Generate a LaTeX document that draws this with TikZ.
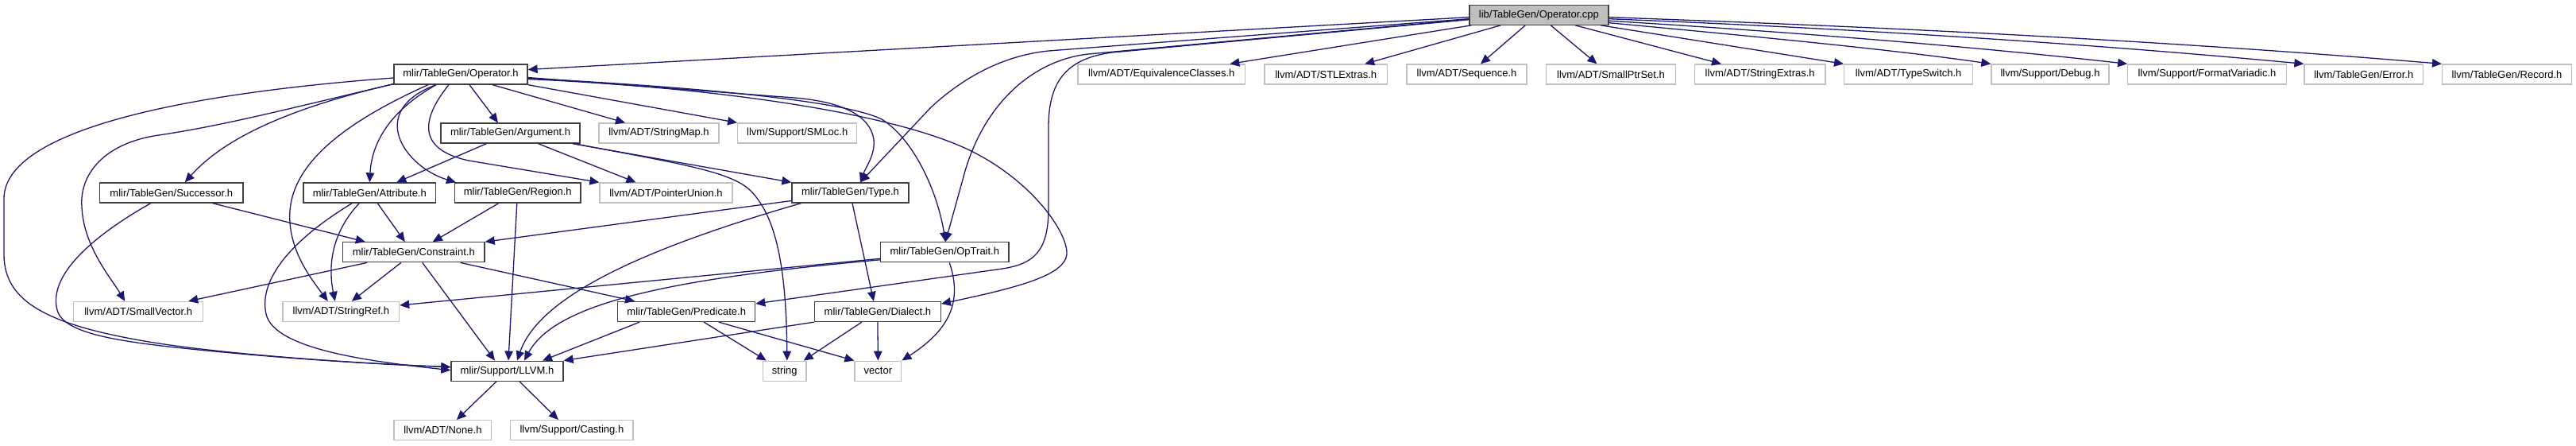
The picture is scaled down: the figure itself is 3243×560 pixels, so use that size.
\documentclass[tikz,border=0pt]{standalone}
\usepackage{fontspec}
\setmainfont{Liberation Sans}
\usetikzlibrary{arrows.meta}
\definecolor{edgec}{HTML}{191970}
\definecolor{gdark}{HTML}{404040}
\definecolor{glight}{HTML}{BFBFBF}
\begin{document}
\begin{tikzpicture}[x=1pt,y=-1pt,
  box/.style={draw, rectangle, minimum height=25pt, inner sep=0pt, line width=1.3pt,
    font=\fontsize{13pt}{15pt}\selectfont, text=black},
  dk/.style={box, draw=gdark},
  lt/.style={box, draw=glight},
  root/.style={box, draw=gdark, fill=glight},
  edge/.style={draw=edgec, line width=1.3pt, -{Triangle[length=12pt,width=10.5pt]}, fill=none},
  every path/.style={}]
\useasboundingbox (0,0) rectangle (3243,560);

% row 0
\node[root, minimum width=175pt] (cpp) at (1937.4,18.7) {lib/TableGen/Operator.cpp};
% row 1
\node[dk, minimum width=168pt] (opH) at (580,93.5) {mlir/TableGen/Operator.h};
\node[lt, minimum width=210.5pt] (eqc) at (1462.3,93.5) {llvm/ADT/EquivalenceClasses.h};
\node[lt, minimum width=154.5pt] (stl) at (1669.2,93.5) {llvm/ADT/STLExtras.h};
\node[lt, minimum width=151pt] (seq) at (1846.5,93.5) {llvm/ADT/Sequence.h};
\node[lt, minimum width=162.7pt] (sps) at (2028,93.5) {llvm/ADT/SmallPtrSet.h};
\node[lt, minimum width=164.6pt] (sex) at (2215.7,93.5) {llvm/ADT/StringExtras.h};
\node[lt, minimum width=161.8pt] (tsw) at (2402.6,93.5) {llvm/ADT/TypeSwitch.h};
\node[lt, minimum width=148pt] (dbg) at (2581,93.5) {llvm/Support/Debug.h};
\node[lt, minimum width=199.5pt] (fmv) at (2778.5,93.5) {llvm/Support/FormatVariadic.h};
\node[lt, minimum width=149.6pt] (err) at (2975.8,93.5) {llvm/TableGen/Error.h};
\node[lt, minimum width=162.8pt] (rec) at (3156,93.5) {llvm/TableGen/Record.h};
% row 2
\node[dk, minimum width=175pt] (arg) at (642.5,167.5) {mlir/TableGen/Argument.h};
\node[lt, minimum width=151pt] (smap) at (829.5,167.5) {llvm/ADT/StringMap.h};
\node[lt, minimum width=150pt] (sml) at (1003.7,167.5) {llvm/Support/SMLoc.h};
% row 3
\node[dk, minimum width=180.5pt] (suc) at (215.8,242.5) {mlir/TableGen/Successor.h};
\node[dk, minimum width=166.6pt] (att) at (465.3,242.5) {mlir/TableGen/Attribute.h};
\node[dk, minimum width=158.4pt] (reg) at (651.8,242.5) {mlir/TableGen/Region.h};
\node[lt, minimum width=167pt] (pun) at (838.5,242.5) {llvm/ADT/PointerUnion.h};
\node[dk, minimum width=147pt] (typ) at (1070.5,242.5) {mlir/TableGen/Type.h};
% row 4
\node[dk, minimum width=178.5pt] (con) at (520.8,317.3) {mlir/TableGen/Constraint.h};
\node[dk, minimum width=161.5pt] (opt) at (1189.3,317.3) {mlir/TableGen/OpTrait.h};
% row 5
\node[lt, minimum width=163pt] (svec) at (174.2,392) {llvm/ADT/SmallVector.h};
\node[lt, minimum width=146.6pt] (sref) at (429.3,392) {llvm/ADT/StringRef.h};
\node[dk, minimum width=172.9pt] (pred) at (864.2,392) {mlir/TableGen/Predicate.h};
\node[dk, minimum width=159pt] (dia) at (1104.9,392) {mlir/TableGen/Dialect.h};
% row 6
\node[dk, minimum width=141pt] (llvm) at (638.5,466.7) {mlir/Support/LLVM.h};
\node[lt, minimum width=54.4pt] (str) at (987.8,466.7) {string};
\node[lt, minimum width=58.7pt] (vec) at (1105.4,466.7) {vector};
% row 7
\node[lt, minimum width=122.7pt] (none) at (557.4,541.2) {llvm/ADT/None.h};
\node[lt, minimum width=154.3pt] (cast) at (719.9,541.2) {llvm/Support/Casting.h};

% ---- edges from Operator.cpp
\draw[edge] ([yshift=-3pt]cpp.west) -- ([yshift=6pt]opH.east);
\draw[edge] ([xshift=3pt]cpp.south west) -- ([xshift=86pt]eqc.north);
\draw[edge] ([xshift=40pt]cpp.south west) -- ([xshift=49pt]stl.north);
\draw[edge] ([xshift=71pt]cpp.south west) -- ([xshift=17.5pt]seq.north);
\draw[edge] ([xshift=103pt]cpp.south west) -- ([xshift=-17.5pt]sps.north);
\draw[edge] ([xshift=134pt]cpp.south west) -- ([xshift=-48.7pt]sex.north);
\draw[edge] ([xshift=166pt]cpp.south west) -- (tsw.north west);
\draw[edge] ([yshift=-10pt]cpp.east) .. controls (2200,45) and (2380,62) .. (dbg.north west);
\draw[edge] ([yshift=-7.5pt]cpp.east) .. controls (2250,40) and (2480,58) .. (fmv.north west);
\draw[edge] ([yshift=-5pt]cpp.east) .. controls (2330,36) and (2620,54) .. (err.north west);
\draw[edge] ([yshift=-3pt]cpp.east) .. controls (2375,34) and (2724,51) .. (rec.north west);
\draw[edge] ([yshift=-5pt]cpp.west) -- (1320,64) .. controls (1262,70) and (1212,98) .. (1172,135) -- ([xshift=12.5pt]typ.north);
\draw[edge] ([yshift=-5.5pt]cpp.west) -- (1370,68) .. controls (1300,76) and (1240,130) .. (1215,215) -- ([xshift=1pt]opt.north);
\draw[edge] ([yshift=-6pt]cpp.west) -- (1400,66) .. controls (1340,74) and (1320,105) .. (1320,160) -- (1320,262) .. controls (1320,318) and (1300,332) .. (1262,338) -- ([yshift=10pt]pred.east);

% ---- edges from Operator.h
\draw[edge] ([xshift=11pt]opH.south) -- ([xshift=-15.5pt]arg.north);
\draw[edge] ([xshift=40pt]opH.south) -- ([xshift=-42.5pt]smap.north);
\draw[edge] (opH.south east) -- (sml.north west);
\draw[edge] ([xshift=-15pt]opH.south) .. controls (530,150) and (525,188) .. (590,202) -- (pun.north west);
\draw[edge] ([xshift=-31pt]opH.south) .. controls (460,140) and (510,210) .. ([xshift=2pt]reg.north west);
\draw[edge] ([xshift=-31pt]opH.south) .. controls (490,140) and (468,180) .. (att.north);
\draw[edge] ([xshift=-41pt]opH.south) .. controls (420,160) and (360,215) .. (365,280) .. controls (368,322) and (395,355) .. ([xshift=-16.5pt]sref.north);
\draw[edge] ([yshift=1pt]opH.south west) .. controls (390,130) and (290,165) .. ([xshift=17pt]suc.north);
\draw[edge] ([yshift=1pt]opH.south west) .. controls (350,140) and (280,158) .. (200,170) .. controls (130,180) and (100,220) .. (103,260) .. controls (105,310) and (140,350) .. ([xshift=-17pt]svec.north);
\draw[edge] ([yshift=-4.5pt]opH.west) .. controls (200,120) and (5,170) .. (5,250) -- (5,320) .. controls (5,380) and (60,410) .. (200,432) .. controls (300,447) and (450,457) .. ([yshift=5pt]llvm.west);
\draw[edge] ([yshift=-4pt]opH.east) -- (1000,123) .. controls (1060,128) and (1095,145) .. (1100,175) .. controls (1102,195) and (1090,210) .. ([xshift=12.5pt]typ.north);
\draw[edge] ([yshift=-5pt]opH.east) .. controls (850,108) and (1060,125) .. (1110,150) .. controls (1150,175) and (1180,240) .. ([xshift=1pt]opt.north);
\draw[edge] ([yshift=-6pt]opH.east) .. controls (900,110) and (1100,140) .. (1200,180) .. controls (1290,215) and (1345,290) .. (1343,320) .. controls (1340,345) and (1290,360) .. ([yshift=10pt]dia.east);

% ---- Argument.h
\draw[edge] ([xshift=-30pt]arg.south) -- ([xshift=34pt]att.north);
\draw[edge] ([xshift=35pt]arg.south) -- ([xshift=-38pt]pun.north);
\draw[edge] ([xshift=-10pt]arg.south east) -- (typ.north west);
\draw[edge] ([xshift=-8pt]arg.south east) .. controls (850,205) and (920,215) .. (945,240) .. controls (975,270) and (990,330) .. ([xshift=3pt]str.north);

% ---- Successor.h
\draw[edge] ([xshift=52pt]suc.south) -- ([xshift=-61pt]con.north);
\draw[edge] ([xshift=-26pt]suc.south) .. controls (120,295) and (60,345) .. (72,390) .. controls (80,420) and (150,430) .. (250,440) .. controls (350,450) and (450,457) .. ([yshift=5pt]llvm.west);

% ---- Attribute.h
\draw[edge] ([xshift=10pt]att.south) -- ([xshift=-11pt]con.north);
\draw[edge] ([xshift=-13pt]att.south) .. controls (420,290) and (412,330) .. ([xshift=-7.5pt]sref.north);
\draw[edge] ([xshift=-22pt]att.south) .. controls (370,300) and (325,350) .. (335,395) .. controls (345,440) and (470,455) .. ([yshift=1pt]llvm.west);

% ---- Region.h
\draw[edge] ([xshift=-24pt]reg.south) -- ([xshift=24pt]con.north);
\draw[edge] ([xshift=-1pt]reg.south) -- ([xshift=1.5pt]llvm.north);

% ---- Type.h
\draw[edge] ([yshift=-10pt]typ.west) -- (con.north east);
\draw[edge] ([xshift=-62pt]typ.south) .. controls (820,310) and (680,370) .. ([xshift=12.5pt]llvm.north);
\draw[edge] ([xshift=2.5pt]typ.south) -- ([xshift=-5pt]dia.north);

% ---- OpTrait.h
\draw[edge] ([yshift=-8pt]opt.west) -- ([yshift=8pt]sref.east);
\draw[edge] ([yshift=-9.5pt]opt.west) .. controls (850,350) and (700,380) .. ([xshift=21.5pt]llvm.north);
\draw[edge] ([xshift=6pt]opt.south) .. controls (1212,380) and (1195,415) .. (vec.north east);

% ---- Constraint.h
\draw[edge] ([xshift=-59pt]con.south) -- ([xshift=63pt]svec.north);
\draw[edge] ([xshift=-16pt]con.south) -- ([xshift=13.5pt]sref.north);
\draw[edge] ([xshift=11pt]con.south) -- ([xshift=-15.5pt]llvm.north);
\draw[edge] ([xshift=59pt]con.south) -- ([xshift=22pt]pred.north west);

% ---- Predicate.h
\draw[edge] ([xshift=-59pt]pred.south) -- ([xshift=44.5pt]llvm.north);
\draw[edge] ([xshift=22pt]pred.south) -- ([xshift=-23pt]str.north);
\draw[edge] ([xshift=40.6pt]pred.south) -- (vec.north west);

% ---- Dialect.h
\draw[edge] (dia.south west) -- (llvm.north east);
\draw[edge] ([xshift=-20pt]dia.south) -- ([xshift=-4pt]str.north east);
\draw[edge] (dia.south) -- (vec.north);

% ---- LLVM.h
\draw[edge] ([xshift=-13.5pt]llvm.south) -- ([xshift=17.5pt]none.north);
\draw[edge] ([xshift=15.5pt]llvm.south) -- ([xshift=-17pt]cast.north);
\end{tikzpicture}
\end{document}
